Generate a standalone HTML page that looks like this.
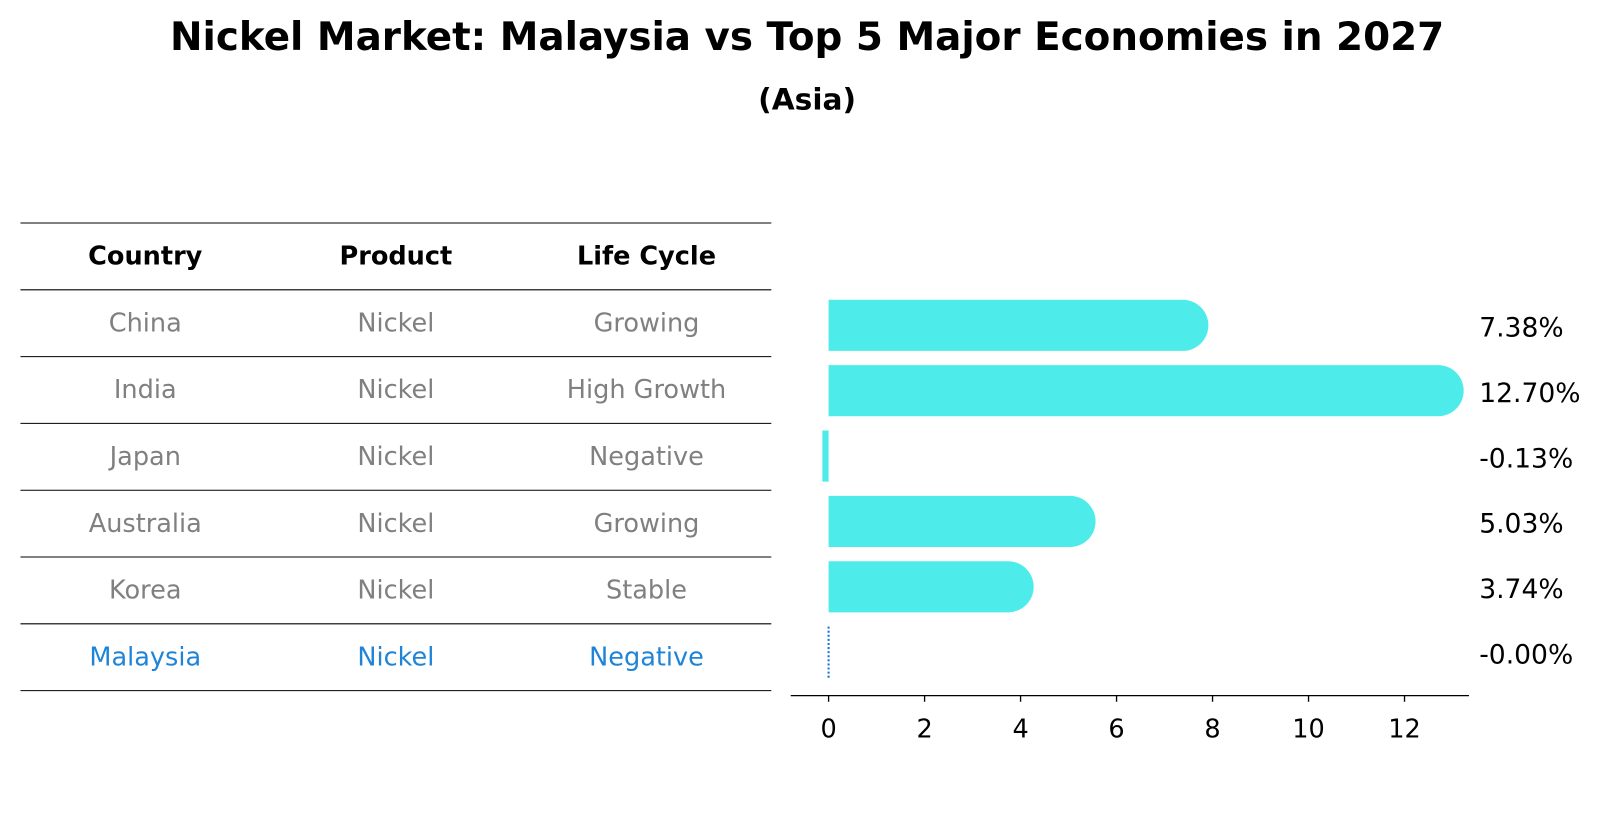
<!DOCTYPE html>
<html><head><meta charset="utf-8"><style>
html,body{margin:0;padding:0;background:#fff;}
svg{display:block;font-family:"DejaVu Sans","Liberation Sans",sans-serif;}
</style></head><body>
<svg id="chart" width="1604" height="823" viewBox="0 0 1568 804.5" xmlns="http://www.w3.org/2000/svg">
<rect width="1568" height="804.5" fill="#fff"/>
<text x="789" y="49" text-anchor="middle" font-size="38" font-weight="bold">Nickel Market: Malaysia vs Top 5 Major Economies in 2027</text>
<text x="789" y="107" text-anchor="middle" font-size="29" font-weight="bold">(Asia)</text>
<g id="table"></g>
<g id="bars"></g>
</svg>
<script>
const countries = ["China","India","Japan","Australia","Korea","Malaysia"];
const products = ["Nickel","Nickel","Nickel","Nickel","Nickel","Nickel"];
const lifeCycles = ["Growing","High Growth","Negative","Growing","Stable","Negative"];
const growthValues = [7.38, 12.70, -0.13, 5.03, 3.74, -0.00];
const growthLabels = ["7.38%","12.70%","-0.13%","5.03%","3.74%","-0.00%"];
const xTicks = [0,2,4,6,8,10,12];

const NS="http://www.w3.org/2000/svg";
function mk(tag, attrs, parent){const e=document.createElementNS(NS,tag);for(const k in attrs)e.setAttribute(k,attrs[k]);parent.appendChild(e);return e;}
const table=document.getElementById('table');
const bars=document.getElementById('bars');

const rowTop=218, rowH=65.3;
const colX=[142,387,632];
const headers=["Country","Product","Life Cycle"];
for(let i=0;i<=countries.length+1;i++){
  const l=mk('line',{x1:20,x2:754,y1:rowTop+i*rowH,y2:rowTop+i*rowH,stroke:'#000','stroke-width':1},table);
  
  
}
headers.forEach((h,j)=>{
  const t=mk('text',{x:colX[j],y:rowTop+rowH/2+8,'text-anchor':'middle','font-size':25,'font-weight':'bold'},table);
  t.textContent=h;
  
  
});
countries.forEach((c,i)=>{
  const vals=[c,products[i],lifeCycles[i]];
  const col=c==="Malaysia"?"#1f84d8":"#808080";
  vals.forEach((v,j)=>{
    const t=mk('text',{x:colX[j],y:rowTop+(i+1)*rowH+rowH/2+8,'text-anchor':'middle','font-size':25,fill:col},table);
    t.textContent=v;
    
    
  });
});

const x0=810, unit=(1373-810)/12;
const xs=v=>x0+v*unit;
const barTop=293, step=63.9, bh=50, r=25;
growthValues.forEach((v,i)=>{
  const y=barTop+i*step;
  if(countries[i]==="Malaysia"){
    const l=mk('line',{x1:xs(0),x2:xs(0),y1:y,y2:y+bh,stroke:'#1f6fd8','stroke-width':2,'stroke-dasharray':'2,2'},bars);
    
    
  } else if(v<0){
    const w=Math.max(xs(0)-xs(v),5);
    const b=mk('rect',{x:xs(0)-w,y:y,width:w,height:bh,fill:'#4deceb'},bars);
    
    
  } else {
    const p=mk('path',{d:`M${xs(0)},${y} H${xs(v)} A${r},${r} 0 0 1 ${xs(v)},${y+bh} H${xs(0)} Z`,fill:'#4deceb'},bars);
    
    
  }
  const t=mk('text',{x:1446,y:y+bh/2+11,'font-size':26},bars);
  t.textContent=growthLabels[i];
  
  
});
const ax=mk('line',{x1:773,x2:1436,y1:680,y2:680,stroke:'#000','stroke-width':1.3},bars);


xTicks.forEach(v=>{
  const tk=mk('line',{x1:xs(v),x2:xs(v),y1:680,y2:686,stroke:'#000','stroke-width':1.3},bars);
  
  
  const t=mk('text',{x:xs(v),y:721,'text-anchor':'middle','font-size':25},bars);
  t.textContent=v;
  
  
});
</script>
</body></html>
